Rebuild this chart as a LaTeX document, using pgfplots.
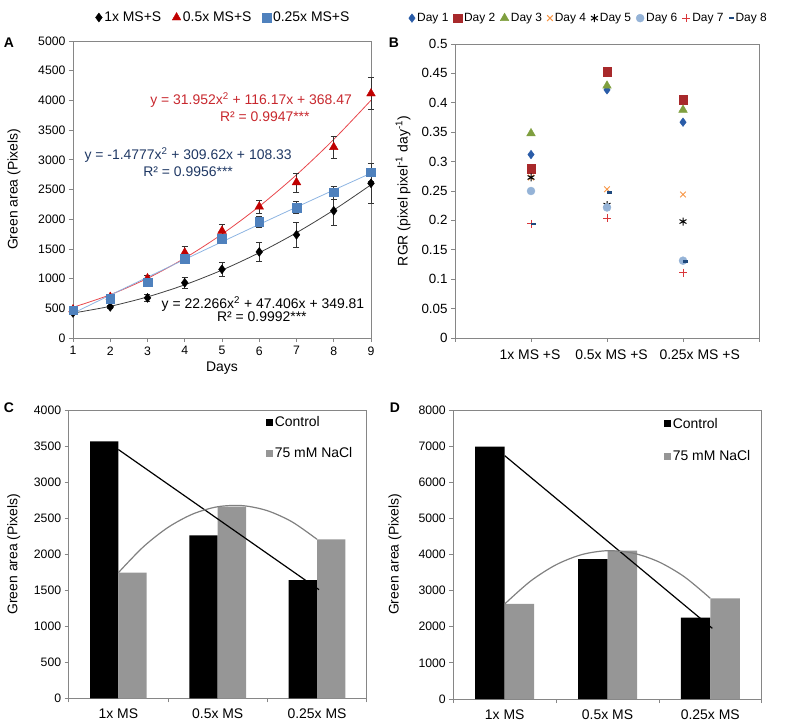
\documentclass[border=0pt]{standalone}
\usepackage{pgfplots}
\pgfplotsset{compat=1.18}
\usepackage{fontspec}
\setmainfont{Liberation Sans}
\definecolor{axgray}{HTML}{868686}
\definecolor{redA}{HTML}{C00000}
\definecolor{redline}{HTML}{E8474C}
\definecolor{redtxt}{HTML}{C8282E}
\definecolor{blueA}{HTML}{4F81BD}
\definecolor{bluelineA}{HTML}{8DB4E2}
\definecolor{navy}{HTML}{1F3864}
\definecolor{dA}{HTML}{2A5CA8}
\definecolor{dB}{HTML}{A8292B}
\definecolor{dC}{HTML}{7F9F3F}
\definecolor{dD}{HTML}{F79646}
\definecolor{dF}{HTML}{95B3D7}
\definecolor{dG}{HTML}{D9363A}
\definecolor{dH}{HTML}{1F497D}
\definecolor{barg}{HTML}{969696}
\definecolor{trendg}{HTML}{808080}
\newcommand{\fs}[1]{\fontsize{#1}{#1}\selectfont}
\pgfplotsset{
  base/.style={
    scale only axis,
    axis line style={axgray, line width=0.8bp},
    every tick/.style={axgray, line width=0.8bp},
    tick align=outside,
    major tick length=4bp,
    minor tick length=4bp,
    /pgf/number format/assume math mode=true,
    /pgf/number format/1000 sep={},
    scaled ticks=false,
    ticklabel style={font=\fs{12.3}, text=black},
    label style={font=\fs{14}},
    xtick pos=left, ytick pos=left,
    clip=false,
    legend cell align=left,
  },
  mlegend/.style={legend image code/.code={\draw[mark repeat=2,mark phase=2,##1] plot coordinates {(0bp,0bp) (4bp,0bp) (8bp,0bp)};}},
  ebar/.style={error bars/.cd, y dir=both, y explicit, error bar style={black!80, line width=0.6bp}, error mark options={rotate=90, black!80, mark size=3bp, line width=0.6bp}},
}
\begin{document}
\begin{tikzpicture}
\useasboundingbox (0,0) rectangle (787bp,-728bp);
\node[font=\bfseries\fs{14}] at (9bp,-43bp) {A};
\node[font=\bfseries\fs{14}] at (394bp,-43bp) {B};
\node[font=\bfseries\fs{14}] at (9bp,-408bp) {C};
\node[font=\bfseries\fs{14}] at (395bp,-408bp) {D};

% ---------------- Panel A
\begin{axis}[base, at={(73bp,-41bp)}, anchor=north west, width=298bp, height=297bp,
  xmin=1, xmax=9, ymin=0, ymax=5000, xtick={1,...,9}, ytick={0,500,...,5000},
  xlabel={Days}, ylabel={Green area (Pixels)},
  xticklabel style={yshift=-1bp},
  ylabel style={at={(axis description cs:-0.198,0.5)}, anchor=center},
  xlabel style={at={(axis description cs:0.5,-0.101)}, anchor=center},
  legend style={at={(0.505,1.079)}, anchor=center, draw=none, fill=none, font=\fs{14}, legend columns=3,
    /tikz/every even column/.append style={column sep=9bp}},
  mlegend,
]
\addplot[forget plot, smooth, line width=0.8bp, black!75] coordinates {(1,419.5)(2,533.7)(3,692.4)(4,895.7)(5,1143.5)(6,1435.8)(7,1772.7)(8,2154.1)(9,2580.0)};
\addplot[forget plot, smooth, line width=0.8bp, redline] coordinates {(1,516.6)(2,728.6)(3,1004.5)(4,1344.4)(5,1748.1)(6,2215.8)(7,2747.3)(8,3342.8)(9,4002.1)};
\addplot[forget plot, smooth, line width=0.8bp, bluelineA] coordinates {(1,416.5)(2,721.7)(3,1023.9)(4,1323.2)(5,1619.5)(6,1912.9)(7,2203.3)(8,2490.7)(9,2775.2)};
\addplot[only marks, mark=diamond*, mark size=4.5bp, black, mark options={fill=black}, ebar]
  table[x=x, y=y, y error=e] {
x y e
1 423 20
2 524 25
3 676 60
4 930 90
5 1156 120
6 1449 166
7 1737 206
8 2142 251
9 2604 343
};
\addlegendentry{1x MS+S}
\addplot[only marks, mark=triangle*, mark size=5bp, redA, mark options={fill=redA}, ebar]
  table[x=x, y=y, y error=e] {
x y e
1 480 30
2 690 40
3 1004 60
4 1437 100
5 1804 110
6 2210 110
7 2621 160
8 3213 190
9 4116 270
};
\addlegendentry{0.5x MS+S}
\addplot[only marks, mark=square*, mark size=4.3bp, blueA, mark options={fill=blueA}, ebar]
  table[x=x, y=y, y error=e] {
x y e
1 470 30
2 666 40
3 942 50
4 1336 60
5 1674 70
6 1956 90
7 2198 100
8 2452 110
9 2790 150
};
\addlegendentry{0.25x MS+S}
\node[text=redtxt, font=\fs{14}] at (axis cs:5.78,4007) {y = 31.952x\textsuperscript{2} + 116.17x + 368.47};
\node[text=redtxt, font=\fs{14}] at (axis cs:6.15,3720) {R² = 0.9947***};
\node[text=navy, font=\fs{14}] at (axis cs:4.09,3081) {y = -1.4777x\textsuperscript{2} + 309.62x + 108.33};
\node[text=navy, font=\fs{14}] at (axis cs:4.09,2795) {R² = 0.9956***};
\node[text=black, font=\fs{14}] at (axis cs:6.10,572) {y = 22.266x\textsuperscript{2} + 47.406x + 349.81};
\node[text=black, font=\fs{14}] at (axis cs:6.07,354) {R² = 0.9992***};
\end{axis}

% ---------------- Panel B
\begin{axis}[base, at={(455bp,-44bp)}, anchor=north west, width=304bp, height=294bp,
  xmin=0, xmax=4, ymin=0, ymax=0.5, xtick={0,1,2,3,4}, xticklabels={},
  ytick={0,0.05,0.1,0.15,0.2,0.25,0.3,0.35,0.4,0.45,0.5},
  yticklabel style={font=\fs{13.4}, /pgf/number format/fixed, /pgf/number format/precision=2},
  ylabel={RGR (pixel pixel\textsuperscript{-1} day\textsuperscript{-1})},
  ylabel style={at={(axis description cs:-0.171,0.5)}, anchor=center},
  legend style={at={(0.44,1.088)}, anchor=center, draw=none, fill=none, font=\fs{12}, legend columns=8,
    /tikz/every even column/.append style={column sep=3bp}},
  mlegend,
]
\addplot[only marks, mark=diamond*, mark size=4.3bp, dA, mark options={fill=dA}] coordinates {(1,0.312)(2,0.422)(3,0.367)};
\addlegendentry{Day 1}
\addplot[only marks, mark=square*, mark size=4.3bp, dB, mark options={fill=dB}] coordinates {(1,0.288)(2,0.453)(3,0.405)};
\addlegendentry{Day 2}
\addplot[only marks, mark=triangle*, mark size=5bp, dC, mark options={fill=dC}] coordinates {(1,0.348)(2,0.429)(3,0.388)};
\addlegendentry{Day 3}
\addplot[only marks, mark=x, mark size=4bp, dD, mark options={line width=1bp}] coordinates {(1,0.273)(2,0.253)(3,0.244)};
\addlegendentry{Day 4}
\addplot[only marks, mark=asterisk, mark size=4bp, black, mark options={line width=1bp}] coordinates {(1,0.273)(2,0.226)(3,0.198)};
\addlegendentry{Day 5}
\addplot[only marks, mark=*, mark size=4bp, dF, mark options={fill=dF}] coordinates {(1,0.250)(2,0.222)(3,0.1315)};
\addlegendentry{Day 6}
\addplot[only marks, mark=+, mark size=4bp, dG, mark options={line width=1bp}] coordinates {(1,0.194)(2,0.2035)(3,0.111)};
\addlegendentry{Day 7}
\addplot[only marks, mark=-, mark size=2.5bp, dH, mark options={line width=2.4bp, xshift=2bp}] coordinates {(1,0.1935)(2,0.2476)(3,0.1298)};
\addlegendentry{Day 8}
\node[font=\fs{14}] at (axis cs:0.987,-0.0285) {1x MS +S};
\node[font=\fs{14}] at (axis cs:2.06,-0.0285) {0.5x MS +S};
\node[font=\fs{14}] at (axis cs:3.22,-0.0285) {0.25x MS +S};
\end{axis}

% ---------------- Panel C
\begin{axis}[base, at={(68.7bp,-410bp)}, anchor=north west, width=298bp, height=288.3bp,
  xmin=0.5, xmax=3.5, ymin=0, ymax=4000, xtick={1,2,3}, xticklabels={1x MS,0.5x MS,0.25x MS},
  major x tick style={draw=none}, minor xtick={0.5,1.5,2.5,3.5},
  xticklabel style={font=\fs{14}, yshift=-3bp},
  ytick={0,500,...,4000},
  ylabel={Green area (Pixels)},
  ylabel style={at={(axis description cs:-0.184,0.5)}, anchor=center},
  legend style={at={(0.81,0.903)}, anchor=center, draw=none, fill=none, font=\fs{14}, row sep=15bp},
]
\addplot[ybar, bar width=28.3bp, bar shift=-14.15bp, fill=black, draw=none,
  legend image code/.code={\fill[black] (0bp,-3.5bp) rectangle (7bp,3.5bp);}]
  coordinates {(1,3566)(2,2261)(3,1641)};
\addlegendentry{Control}
\addplot[ybar, bar width=28.3bp, bar shift=14.15bp, fill=barg, draw=none,
  legend image code/.code={\fill[barg] (0bp,-3.5bp) rectangle (7bp,3.5bp);}]
  coordinates {(1,1743)(2,2658)(3,2206)};
\addlegendentry{75 mM NaCl}
\addplot[forget plot, black, line width=1.2bp] coordinates {(1,3451.5)(3.02,1507)};
\addplot[forget plot, trendg, line width=1.2bp, smooth] coordinates {(1,1743)(1.25,2099.9)(1.5,2371.4)(1.75,2557.4)(2,2658)(2.25,2673.2)(2.5,2602.9)(2.75,2447.1)(3,2206)};
\end{axis}

% ---------------- Panel D
\begin{axis}[base, at={(453.3bp,-410bp)}, anchor=north west, width=308.4bp, height=289bp,
  xmin=0.5, xmax=3.5, ymin=0, ymax=8000, xtick={1,2,3}, xticklabels={1x MS,0.5x MS,0.25x MS},
  major x tick style={draw=none}, minor xtick={0.5,1.5,2.5,3.5},
  xticklabel style={font=\fs{14}, yshift=-3bp},
  ytick={0,1000,...,8000},
  ylabel={Green area (Pixels)},
  ylabel style={at={(axis description cs:-0.189,0.5)}, anchor=center},
  legend style={at={(0.826,0.896)}, anchor=center, draw=none, fill=none, font=\fs{14}, row sep=17bp},
]
\addplot[ybar, bar width=29.5bp, bar shift=-14.75bp, fill=black, draw=none,
  legend image code/.code={\fill[black] (0bp,-3.5bp) rectangle (7bp,3.5bp);}]
  coordinates {(1,6984)(2,3875)(3,2251)};
\addlegendentry{Control}
\addplot[ybar, bar width=29.5bp, bar shift=14.75bp, fill=barg, draw=none,
  legend image code/.code={\fill[barg] (0bp,-3.5bp) rectangle (7bp,3.5bp);}]
  coordinates {(1,2630)(2,4105)(3,2787)};
\addlegendentry{75 mM NaCl}
\addplot[forget plot, black, line width=1.2bp] coordinates {(1,6736.5)(3.02,1956)};
\addplot[forget plot, trendg, line width=1.2bp, smooth] coordinates {(1,2630)(1.25,3260.6)(1.5,3716.6)(1.75,3998.1)(2,4105)(2.25,4037.3)(2.5,3795.1)(2.75,3378.4)(3,2787)};
\end{axis}
\end{tikzpicture}
\end{document}
